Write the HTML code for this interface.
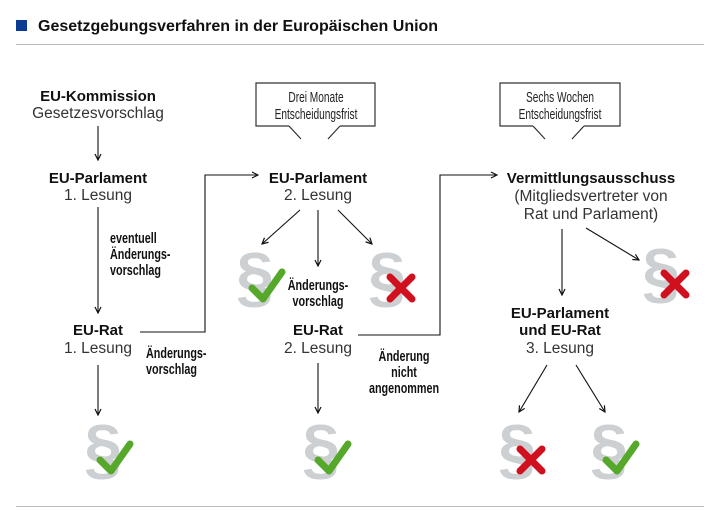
<!DOCTYPE html>
<html><head><meta charset="utf-8"><style>
html,body{margin:0;padding:0;background:#fff}
svg{display:block}
.b{font-family:"Liberation Sans",sans-serif;font-weight:bold;font-size:15px;fill:#111}
.r{font-family:"Liberation Sans",sans-serif;font-size:15.5px;fill:#333}
.n{font-family:"Liberation Sans",sans-serif;font-weight:bold;font-size:15px;fill:#111}
.c{font-family:"Liberation Sans",sans-serif;font-size:14.5px;fill:#222}
.p{font-family:"Liberation Sans",sans-serif;font-weight:bold;font-size:68px;fill:#cdd0d3}
</style></head><body>
<svg width="720" height="530" viewBox="0 0 720 530" xmlns="http://www.w3.org/2000/svg">
<defs>
<marker id="a" markerWidth="8" markerHeight="8" refX="7" refY="4" orient="auto" markerUnits="userSpaceOnUse">
<path d="M1,1 L7,4 L1,7" fill="none" stroke="#111" stroke-width="1.2"/></marker>
<g id="chk"><path d="M16,38 L27,49 L46,22" fill="none" stroke="#56a82a" stroke-width="7" stroke-linecap="round" stroke-linejoin="round"/></g>
<g id="x"><path d="M22,27 L44,49 M44,27 L22,49" fill="none" stroke="#d0101e" stroke-width="7" stroke-linecap="round"/></g>
</defs>
<rect x="16" y="20" width="11" height="11" fill="#0a3d91"/>
<text x="38" y="31" class="b" style="font-size:16px">Gesetzgebungsverfahren in der Europäischen Union</text>
<line x1="16" y1="44.5" x2="704" y2="44.5" stroke="#bbb"/>
<line x1="16" y1="506.5" x2="704" y2="506.5" stroke="#bbb"/>

<g text-anchor="middle">
<text x="98" y="101" class="b">EU-Kommission</text>
<text x="98" y="118" class="r">Gesetzesvorschlag</text>
<text x="98" y="183" class="b">EU-Parlament</text>
<text x="98" y="200" class="r">1. Lesung</text>
<text x="98" y="335" class="b">EU-Rat</text>
<text x="98" y="353" class="r">1. Lesung</text>
<text x="318" y="183" class="b">EU-Parlament</text>
<text x="318" y="200" class="r">2. Lesung</text>
<text x="318" y="335" class="b">EU-Rat</text>
<text x="318" y="353" class="r">2. Lesung</text>
<text x="591" y="183" class="b">Vermittlungsausschuss</text>
<text x="591" y="201" class="r">(Mitgliedsvertreter von</text>
<text x="591" y="219" class="r">Rat und Parlament)</text>
<text x="560" y="318" class="b">EU-Parlament</text>
<text x="560" y="335" class="b">und EU-Rat</text>
<text x="560" y="353" class="r">3. Lesung</text>
<text x="318" y="290" class="n" transform="translate(318 0) scale(0.72 1) translate(-318 0)">Änderungs-</text>
<text x="318" y="306" class="n" transform="translate(318 0) scale(0.72 1) translate(-318 0)">vorschlag</text>
<text x="404" y="361" class="n" transform="translate(404 0) scale(0.72 1) translate(-404 0)">Änderung</text>
<text x="404" y="377" class="n" transform="translate(404 0) scale(0.72 1) translate(-404 0)">nicht</text>
<text x="404" y="393" class="n" transform="translate(404 0) scale(0.72 1) translate(-404 0)">angenommen</text>
</g>
<g transform="translate(110 0) scale(0.72 1)">
<text x="0" y="243" class="n">eventuell</text>
<text x="0" y="259" class="n">Änderungs-</text>
<text x="0" y="275" class="n">vorschlag</text>
</g>
<g transform="translate(146 0) scale(0.72 1)">
<text x="0" y="358" class="n">Änderungs-</text>
<text x="0" y="374" class="n">vorschlag</text>
</g>

<path d="M289,126 L256,126 L256,83 L375,83 L375,126 L340,126 M289,126 L301,139 M340,126 L328,139" fill="#fff" stroke="#333" stroke-width="1.2"/>
<g text-anchor="middle">
<text x="316" y="102" class="c" transform="translate(316 0) scale(0.7 1) translate(-316 0)">Drei Monate</text>
<text x="316" y="119" class="c" transform="translate(316 0) scale(0.7 1) translate(-316 0)">Entscheidungsfrist</text>
</g>
<path d="M533,126 L500,126 L500,83 L620,83 L620,126 L584,126 M533,126 L545,139 M584,126 L572,139" fill="#fff" stroke="#333" stroke-width="1.2"/>
<g text-anchor="middle">
<text x="560" y="102" class="c" transform="translate(560 0) scale(0.7 1) translate(-560 0)">Sechs Wochen</text>
<text x="560" y="119" class="c" transform="translate(560 0) scale(0.7 1) translate(-560 0)">Entscheidungsfrist</text>
</g>

<g stroke="#111" stroke-width="1.1" fill="none" marker-end="url(#a)">
<line x1="98" y1="126" x2="98" y2="160"/>
<line x1="98" y1="207" x2="98" y2="313"/>
<line x1="98" y1="365" x2="98" y2="415"/>
<polyline points="140,332 205,332 205,175 258,175"/>
<line x1="300" y1="210" x2="262" y2="244"/>
<line x1="318" y1="210" x2="318" y2="266"/>
<line x1="338" y1="210" x2="372" y2="244"/>
<line x1="318" y1="363" x2="318" y2="413"/>
<polyline points="358,335 440,335 440,175 497,175"/>
<line x1="562" y1="229" x2="562" y2="295"/>
<line x1="586" y1="228" x2="639" y2="260"/>
<line x1="547" y1="365" x2="519" y2="412"/>
<line x1="576" y1="365" x2="605" y2="412"/>
</g>

<g transform="translate(84 422)"><text x="0" y="50" class="p">§</text><use href="#chk"/></g>
<g transform="translate(302 422)"><text x="0" y="50" class="p">§</text><use href="#chk"/></g>
<g transform="translate(498 422)"><text x="0" y="50" class="p">§</text><use href="#x"/></g>
<g transform="translate(590 422)"><text x="0" y="50" class="p">§</text><use href="#chk"/></g>
<g transform="translate(236 250)"><text x="0" y="50" class="p">§</text><use href="#chk"/></g>
<g transform="translate(368 250)"><text x="0" y="50" class="p">§</text><use href="#x"/></g>
<g transform="translate(642 246)"><text x="0" y="50" class="p">§</text><use href="#x"/></g>
</svg>
</body></html>
